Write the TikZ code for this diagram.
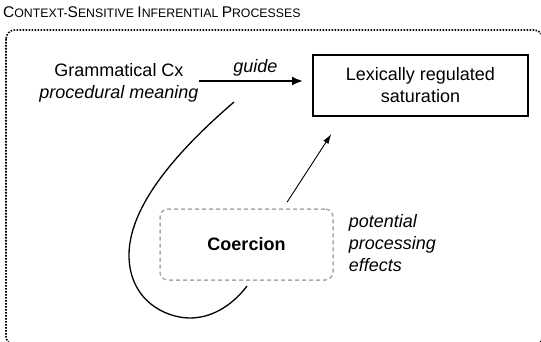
\documentclass[tikz,border=0pt]{standalone}
\usepackage{fontspec}
\setmainfont{Liberation Sans}
\usetikzlibrary{arrows.meta, positioning, calc}
\newcommand{\tcap}[1]{{\fontsize{15.5}{18}\selectfont #1}}
\newcommand{\tsml}[1]{{\fontsize{12.3}{14}\selectfont #1}}
\tikzset{
  txt/.style = {font=\fontsize{18}{22}\selectfont, inner sep=0pt, align=center},
  lexbox/.style = {txt, rectangle, draw, line width=1.8pt, minimum width=215pt, minimum height=61pt},
  coerbox/.style = {txt, rectangle, draw=black!33, line width=1.5pt, dash pattern=on 4pt off 3pt, rounded corners=8pt, minimum width=173pt, minimum height=71pt},
  frame/.style = {draw, line width=1.6pt, dash pattern=on 1.6pt off 1.4pt, rounded corners=9pt},
  arrow/.style = {draw, line width=0.9pt, -{Latex[length=10pt, width=6pt]}},
  thickarrow/.style = {draw, line width=2.2pt, -{Latex[length=11pt, width=9pt]}},
  loopline/.style = {draw, line width=1.3pt},
}
\begin{document}
\begin{tikzpicture}[x=1pt, y=-1pt, node distance=15pt]
  \useasboundingbox (0,0) rectangle (541,342);

  \node (title) [anchor=base west, inner sep=0pt] at (3,18)
    {\tcap{C}\tsml{ONTEXT-}\tcap{S}\tsml{ENSITIVE }\tcap{I}\tsml{NFERENTIAL }\tcap{P}\tsml{ROCESSES}};
  \draw [frame] (6,30) rectangle (543,345);

  \node (gram) [txt] at (119,83) {Grammatical Cx\\\textit{procedural meaning}};
  \node (lex) [lexbox] at (420.5,85.5) {Lexically regulated\\saturation};
  \node (coer) [coerbox] at (246.5,244.5) {\textbf{Coercion}};
  \node (effects) [txt, align=left, font=\fontsize{18}{22}\selectfont\itshape, right=15pt of coer, yshift=1pt]
    {potential\\processing\\effects};

  \draw [thickarrow, shorten >=9pt] ([yshift=2pt]gram.east) -- ([yshift=2pt]gram.east -| lex.west)
    node (guide) [midway, above=4pt, txt, font=\fontsize{18}{22}\selectfont\itshape] {guide};
  \draw [arrow] ($(coer.north)+(40.5,-6)$) -- ($(lex.south west)+(19.3,17)$);

  \coordinate (loopin) at (234,102);
  \coordinate (loopout) at (247,286);
  \draw [loopline] (loopin) .. controls (190,140) and (129,200) .. (129,255)
    .. controls (129,300) and (165,318) .. (190,318)
    .. controls (215,318) and (235,302) .. (loopout);

\end{tikzpicture}
\end{document}
